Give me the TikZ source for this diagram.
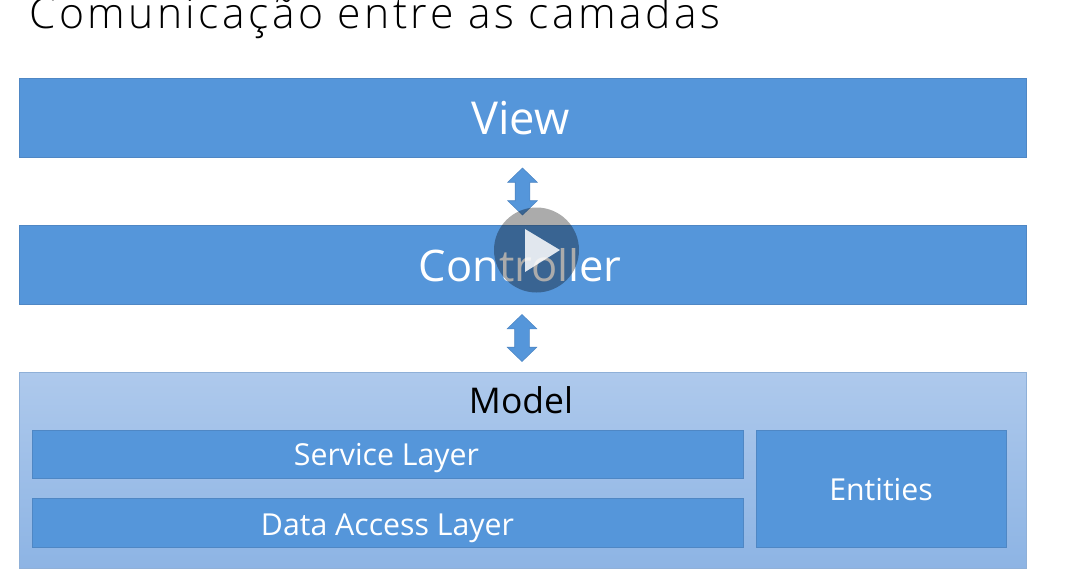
\documentclass[tikz,border=0pt]{standalone}
\usepackage{fontspec}
\setmainfont{Open Sans}
\newfontfamily\titlefont[LetterSpace=8]{Open Sans Light}
\usetikzlibrary{shapes.arrows}
\definecolor{boxblue}{HTML}{5596DA}
\definecolor{boxedge}{HTML}{4F87C4}
\definecolor{modeltop}{HTML}{AEC9EC}
\definecolor{modelbot}{HTML}{8DB4E4}
\definecolor{modeledge}{HTML}{8FB0D8}
\newcommand{\dropby}[2]{\raisebox{-#1pt}{#2}}
\tikzset{
  x=0.75pt,y=-0.75pt,
  layerbox/.style={draw=boxedge,line width=0.6pt,fill=boxblue,text=white,inner sep=0pt,outer sep=0pt,anchor=north west,text height=0pt,text depth=0pt},
  bigbox/.style={layerbox,minimum width=1007.5*0.75pt,minimum height=79*0.75pt},
  smallbox/.style={layerbox,font=\fontsize{22.7}{27}\selectfont},
  updown/.style={shape=double arrow,draw=boxedge,line width=0.4pt,fill=boxblue,rotate=90,inner sep=0pt,
    minimum height=47*0.75pt,minimum width=29*0.75pt,double arrow head extend=7.5*0.75pt,
    double arrow tip angle=92},
}
\begin{document}
\begin{tikzpicture}
\useasboundingbox (0,0) rectangle (1078,572);
\clip (0,0) rectangle (1078,572);
\fill[white] (0,0) rectangle (1078,572);
\node[anchor=base west,inner sep=0pt,font=\titlefont\fontsize{32}{38}\selectfont] (title) at (29,28) {Comunicação entre as camadas};
\node[bigbox,font=\fontsize{34}{40}\selectfont] (view) at (19,78.5) {\hspace{-3.75pt}\dropby{12.4}{View}};
\node[bigbox,font=\fontsize{32.6}{40}\selectfont] (controller) at (19,225) {\hspace{-3.75pt}\dropby{12.6}{Controller}};
\node[layerbox,draw=modeledge,top color=modeltop,bottom color=modelbot,minimum width=1007.5*0.75pt,minimum height=196*0.75pt] (model) at (19,372) {};
\node[anchor=base,inner sep=0pt,font=\fontsize{26.6}{32}\selectfont] (modellabel) at (521,413.7) {Model};
\node[smallbox,minimum width=711*0.75pt,minimum height=48*0.75pt] (service) at (32,430) {\hspace{-1.5pt}\dropby{8.25}{Service Layer}};
\node[smallbox,minimum width=711*0.75pt,minimum height=49*0.75pt] (data) at (32,498) {\dropby{9.4}{Data Access Layer}};
\node[smallbox,minimum width=250*0.75pt,minimum height=117*0.75pt] (entities) at (756,430) {\dropby{8.7}{Entities}};
\node[updown] (arrowtop) at (522.5,191.5) {\rule{0pt}{10.5pt}};
\node[updown] (arrowbot) at (522,338) {\rule{0pt}{10.5pt}};
\fill[black,opacity=0.33] (536.5,250) circle (42.5);
\fill[white,opacity=0.85] (525,229) -- (560,250) -- (525,272) -- cycle;
\end{tikzpicture}
\end{document}
